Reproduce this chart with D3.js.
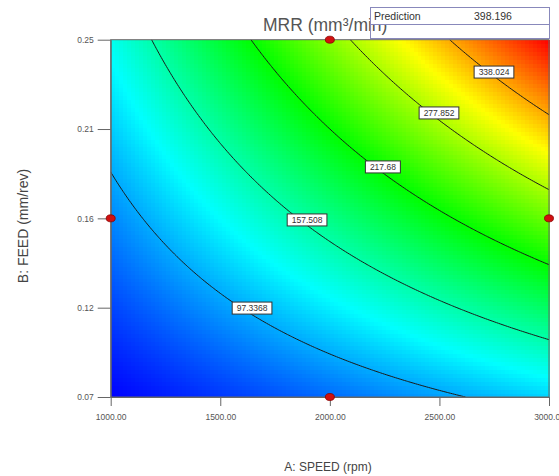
<!DOCTYPE html>
<html>
<head>
<meta charset="utf-8">
<script src="https://cdn.jsdelivr.net/npm/d3@7"></script>
<style>
  html, body { margin: 0; padding: 0; background: #fff; }
  svg { display: block; font-family: "Liberation Sans", Arial, sans-serif; }
</style>
</head>
<body>
<svg id="chart" width="559" height="476"></svg>
<script>
// Factor ranges (A: speed, B: feed)
const speedRange = [1000, 3000];
const feedRange = [0.07, 0.25];

// Coded-factor model for MRR: intercept, A, B, AB
const modelCoefs = [169.897, 84.948, 95.567, 47.784];

// Contour levels printed on the plot
const contourLevels = [97.3368, 157.508, 217.68, 277.852, 338.024];
// Where each contour label sits (speed, feed)
const labelSpeeds = [1645, 1896, 2242, 2498, 2749];
const labelFeeds = [0.1148, 0.1592, 0.1859, 0.2131, 0.2337];

// Axis ticks
const speedTicks = [1000, 1500, 2000, 2500, 3000];
const speedTickLabels = ["1000.00", "1500.00", "2000.00", "2500.00", "3000.00"];
const feedTicks = [0.07, 0.115, 0.16, 0.205, 0.25];
const feedTickLabels = ["0.07", "0.12", "0.16", "0.21", "0.25"];

// Design points shown on the plot edges
const designSpeeds = [2000, 2000, 1000, 3000];
const designFeeds = [0.25, 0.07, 0.16, 0.16];

// Prediction readout
const predictionLabel = "Prediction";
const predictionValue = 398.196;

const svg = d3.select("#chart");
const plot = { left: 110.7, top: 39.7, right: 549, bottom: 397 };

const x = d3.scaleLinear().domain(speedRange).range([plot.left, plot.right]);
const y = d3.scaleLinear().domain(feedRange).range([plot.bottom, plot.top]);

function mrr(speed, feed) {
  const a = (speed - 2000) / 1000;
  const b = (feed - 0.16) / 0.09;
  return modelCoefs[0] + modelCoefs[1] * a + modelCoefs[2] * b + modelCoefs[3] * a * b;
}

const vMin = mrr(speedRange[0], feedRange[0]);
const vMax = mrr(speedRange[1], feedRange[1]);
const color = d3.scaleLinear()
  .domain(d3.range(5).map(i => vMin + (vMax - vMin) * i / 4))
  .range(["#0000ff", "#00ffff", "#00ff00", "#ffff00", "#ff0000"])
  .clamp(true);

svg.append("defs").append("clipPath").attr("id", "plotClip")
  .append("rect")
  .attr("x", plot.left).attr("y", plot.top)
  .attr("width", plot.right - plot.left).attr("height", plot.bottom - plot.top);

// Colour field
const nx = 110, ny = 90;
const cells = [];
for (let j = 0; j < ny; j++) {
  for (let i = 0; i < nx; i++) {
    const s0 = speedRange[0] + (speedRange[1] - speedRange[0]) * i / nx;
    const s1 = speedRange[0] + (speedRange[1] - speedRange[0]) * (i + 1) / nx;
    const f0 = feedRange[0] + (feedRange[1] - feedRange[0]) * j / ny;
    const f1 = feedRange[0] + (feedRange[1] - feedRange[0]) * (j + 1) / ny;
    cells.push({ s0, s1, f0, f1, v: mrr((s0 + s1) / 2, (f0 + f1) / 2) });
  }
}
svg.append("g")
  .attr("shape-rendering", "crispEdges")
  .selectAll("rect").data(cells).join("rect")
  .attr("x", d => x(d.s0))
  .attr("y", d => y(d.f1))
  .attr("width", d => x(d.s1) - x(d.s0) + 0.6)
  .attr("height", d => y(d.f0) - y(d.f1) + 0.6)
  .attr("fill", d => color(d.v));

// Contour lines
const gx = 201, gy = 161;
const grid = new Array(gx * gy);
for (let j = 0; j < gy; j++) {
  const feed = feedRange[1] - (feedRange[1] - feedRange[0]) * j / (gy - 1);
  for (let i = 0; i < gx; i++) {
    const speed = speedRange[0] + (speedRange[1] - speedRange[0]) * i / (gx - 1);
    grid[j * gx + i] = mrr(speed, feed);
  }
}
const contours = d3.contours().size([gx, gy]).thresholds(contourLevels)(grid);
const projection = d3.geoTransform({
  point: function (cx, cy) {
    const speed = speedRange[0] + (speedRange[1] - speedRange[0]) * (cx - 0.5) / (gx - 1);
    const feed = feedRange[1] - (feedRange[1] - feedRange[0]) * (cy - 0.5) / (gy - 1);
    this.stream.point(x(speed), y(feed));
  }
});
const path = d3.geoPath(projection);
svg.append("g").attr("clip-path", "url(#plotClip)")
  .selectAll("path").data(contours).join("path")
  .attr("d", path)
  .attr("fill", "none")
  .attr("stroke", "#1a1a1a")
  .attr("stroke-width", 1);

// Plot frame
svg.append("rect")
  .attr("x", plot.left).attr("y", plot.top)
  .attr("width", plot.right - plot.left).attr("height", plot.bottom - plot.top)
  .attr("fill", "none").attr("stroke", "#666").attr("stroke-width", 1);

// Contour labels
const labelG = svg.append("g");
contourLevels.forEach((lvl, k) => {
  const g = labelG.append("g")
    .attr("transform", `translate(${x(labelSpeeds[k])},${y(labelFeeds[k])})`);
  const rect = g.append("rect");
  const t = g.append("text")
    .attr("text-anchor", "middle")
    .attr("dy", "0.35em")
    .attr("font-size", 8.5)
    .attr("fill", "#333")
    .text(String(lvl));
  const w = t.node().getComputedTextLength() + 9;
  rect.attr("x", -w / 2).attr("y", -6).attr("width", w).attr("height", 12)
    .attr("fill", "#fff").attr("stroke", "#333").attr("stroke-width", 1);
});

// X axis
const xAxis = d3.axisBottom(x).tickValues(speedTicks)
  .tickFormat((d, i) => speedTickLabels[i]).tickSize(9).tickSizeOuter(0);
const gxA = svg.append("g").attr("transform", `translate(0,${plot.bottom})`).call(xAxis);
gxA.select(".domain").attr("stroke", "#666");
gxA.selectAll(".tick line").attr("stroke", "#666");
gxA.selectAll(".tick text").attr("font-size", 8.5).attr("fill", "#555")
  .attr("font-family", "Liberation Sans, Arial, sans-serif").attr("y", 17);

// Y axis
const yAxis = d3.axisLeft(y).tickValues(feedTicks)
  .tickFormat((d, i) => feedTickLabels[i]).tickSize(13).tickSizeOuter(0);
const gyA = svg.append("g").attr("transform", `translate(${plot.left},0)`).call(yAxis);
gyA.select(".domain").attr("stroke", "#666");
gyA.selectAll(".tick line").attr("stroke", "#666");
gyA.selectAll(".tick text").attr("font-size", 8.5).attr("fill", "#555")
  .attr("font-family", "Liberation Sans, Arial, sans-serif").attr("x", -17);

// Design points
svg.append("g").selectAll("ellipse")
  .data(designSpeeds.map((s, i) => [s, designFeeds[i]]))
  .join("ellipse")
  .attr("cx", d => x(d[0])).attr("cy", d => y(d[1]))
  .attr("rx", 4.5).attr("ry", 3.5)
  .attr("fill", "#d01010").attr("stroke", "#8a0000").attr("stroke-width", 0.8);

// Title
svg.append("text")
  .attr("x", 263).attr("y", 31)
  .attr("font-size", 17.5).attr("fill", "#555")
  .text("MRR (mm³/min)");

// Prediction readout box
svg.append("rect").attr("x", 370.5).attr("y", 7.5).attr("width", 179).attr("height", 17)
  .attr("fill", "#fff").attr("stroke", "#8888bb").attr("stroke-width", 1);
svg.append("rect").attr("x", 370.5).attr("y", 7.5).attr("width", 179).attr("height", 31)
  .attr("fill", "none").attr("stroke", "#8888bb").attr("stroke-width", 1);
svg.append("text").attr("x", 374).attr("y", 20)
  .attr("font-size", 10.5).attr("fill", "#333").text(predictionLabel);
svg.append("text").attr("x", 474).attr("y", 20)
  .attr("font-size", 10.5).attr("fill", "#333").text(predictionValue.toFixed(3));

// Axis titles
svg.append("text")
  .attr("x", 328).attr("y", 471)
  .attr("text-anchor", "middle")
  .attr("font-size", 12).attr("fill", "#444")
  .text("A: SPEED (rpm)");
svg.append("text")
  .attr("transform", "translate(28,226) rotate(-90)")
  .attr("text-anchor", "middle")
  .attr("font-size", 14).attr("fill", "#444")
  .text("B: FEED (mm/rev)");
</script>
</body>
</html>
